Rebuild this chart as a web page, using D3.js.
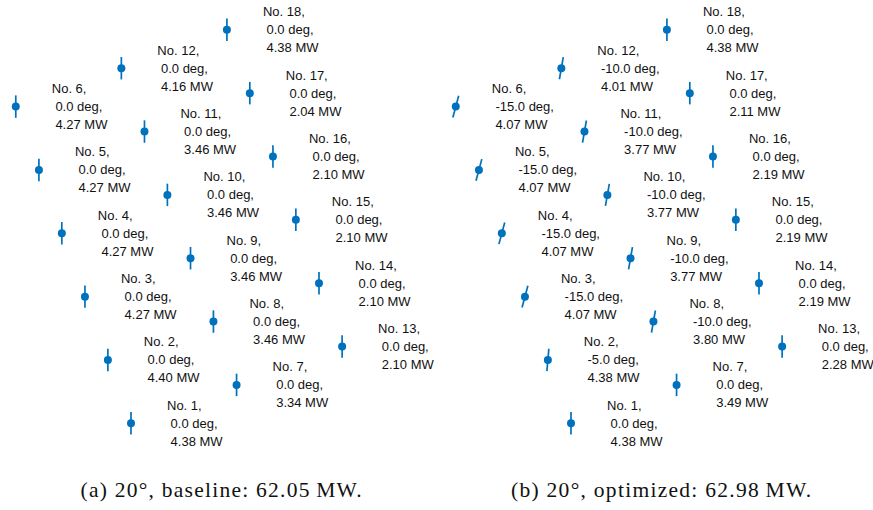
<!DOCTYPE html>
<html>
<head>
<meta charset="utf-8">
<script src="https://cdn.jsdelivr.net/npm/d3@7"></script>
<style>
  body { margin: 0; background: #fff; }
  svg { display: block; }
  .lbl { font-family: "Liberation Sans", Arial, sans-serif; font-size: 13px; fill: #111; white-space: pre; }
  .cap { font-family: "Liberation Serif", "Times New Roman", serif; font-size: 21.5px; fill: #111; }
</style>
</head>
<body>
<svg id="chart" width="873" height="510"></svg>
<script>
// turbine positions, in rotor diameters
const turbineIds = [1, 2, 3, 4, 5, 6, 7, 8, 9, 10, 11, 12, 13, 14, 15, 16, 17, 18];
const posX = [0, -1.03, -2.05, -3.08, -4.10, -5.13,
              4.70, 3.67, 2.65, 1.62, 0.60, -0.43,
              9.40, 8.37, 7.34, 6.32, 5.29, 4.27];
const posY = [0, 2.82, 5.64, 8.46, 11.28, 14.10,
              1.71, 4.53, 7.35, 10.17, 12.99, 15.81,
              3.42, 6.24, 9.06, 11.88, 14.70, 17.52];

const yawBaseline = [0, 0, 0, 0, 0, 0, 0, 0, 0, 0, 0, 0, 0, 0, 0, 0, 0, 0];
const powerBaseline = [4.38, 4.40, 4.27, 4.27, 4.27, 4.27, 3.34, 3.46, 3.46, 3.46, 3.46, 4.16,
                       2.10, 2.10, 2.10, 2.10, 2.04, 4.38];
const yawOptimized = [0, -5, -15, -15, -15, -15, 0, -10, -10, -10, -10, -10, 0, 0, 0, 0, 0, 0];
const powerOptimized = [4.38, 4.38, 4.07, 4.07, 4.07, 4.07, 3.49, 3.80, 3.77, 3.77, 3.77, 4.01,
                        2.28, 2.19, 2.19, 2.19, 2.11, 4.38];

const captions = ["(a) 20\u00b0, baseline: 62.05\u2009MW.", "(b) 20\u00b0, optimized: 62.98\u2009MW."];
const rotorD = 1;

const svg = d3.select("#chart");
const blue = "#0072BD";

function drawPanel(offsetX, yaws, powers, caption, capWidth) {
  const x = d3.scaleLinear().domain([0, 10]).range([offsetX + 131, offsetX + 355.6]);
  const y = d3.scaleLinear().domain([0, 10]).range([423.3, 198.7]);
  const half = (x(rotorD) - x(0)) / 2;

  const g = svg.append("g");
  const t = g.selectAll("g.turbine")
    .data(turbineIds.map((id, i) => ({ id: id, x: posX[i], y: posY[i], yaw: yaws[i], p: powers[i] })))
    .join("g")
    .attr("class", "turbine")
    .attr("transform", d => `translate(${x(d.x)},${y(d.y)})`);

  t.append("line")
    .attr("x1", d => -half * Math.sin(-d.yaw * Math.PI / 180))
    .attr("y1", d => half * Math.cos(d.yaw * Math.PI / 180))
    .attr("x2", d => half * Math.sin(-d.yaw * Math.PI / 180))
    .attr("y2", d => -half * Math.cos(d.yaw * Math.PI / 180))
    .attr("stroke", blue)
    .attr("stroke-width", 1.7);

  t.append("circle")
    .attr("r", 4)
    .attr("fill", blue);

  const txt = t.append("text")
    .attr("class", "lbl")
    .attr("x", 36);
  txt.append("tspan").attr("x", 36).attr("y", -13.5).text(d => `No. ${d.id},`);
  txt.append("tspan").attr("x", 36).attr("y", 4.5).text(d => ` ${d.yaw.toFixed(1)} deg,`);
  txt.append("tspan").attr("x", 36).attr("y", 22.5).text(d => ` ${d.p.toFixed(2)} MW`);

  g.append("text")
    .attr("class", "cap")
    .attr("x", offsetX + 221)
    .attr("y", 497)
    .attr("text-anchor", "middle")
    .attr("textLength", capWidth)
    .attr("lengthAdjust", "spacing")
    .text(caption);
}

drawPanel(0, yawBaseline, powerBaseline, captions[0], 281);
drawPanel(440, yawOptimized, powerOptimized, captions[1], 300);
</script>
</body>
</html>
